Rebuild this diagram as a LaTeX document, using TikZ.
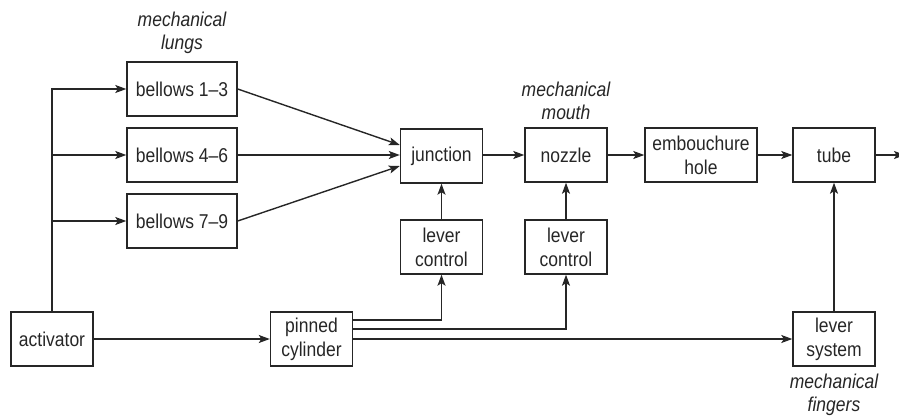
\documentclass[tikz,border=0pt]{standalone}
\usepackage{fontspec}
\setmainfont{Liberation Sans}[FakeStretch=0.875]
\usetikzlibrary{arrows.meta}
\definecolor{ink}{HTML}{262626}
\tikzset{
    every node/.style={rectangle, draw=ink, line width=1.4pt, text=ink, inner sep=0mm,
        minimum width=82pt, minimum height=54pt, align=center, font=\fontsize{20}{24}\selectfont}
}
\tikzset{every label/.style={draw=none, minimum width=0pt, minimum height=0pt,
    align=center, font=\fontsize{20}{23}\selectfont\itshape}}

\begin{document}
\begin{tikzpicture}[x=1pt, y=-1pt, label distance=7pt, line width=1.4pt, draw=ink,
    >={Stealth[length=11pt, width=8pt, inset=2.5pt]}]
    \useasboundingbox (0,0) rectangle (899,417);

    \node (b1) at (182, 89) [minimum width=110pt, label=above:{mechanical\\lungs}] {bellows 1--3};
    \node (b2) at (182, 155) [minimum width=110pt] {bellows 4--6};
    \node (b3) at (182, 221) [minimum width=110pt] {bellows 7--9};

    \node (jn) at (441.5, 156) {junction};
    \node (nz) at (566, 155) [label=above:{mechanical\\mouth}] {nozzle};
    \node (eh) at (701, 155) [minimum width=112pt] {embouchure\\hole};
    \node (tb) at (834, 155) {tube};
    \coordinate (out) at (905, 155);

    \node (lc1) at (441.5, 247) {lever\\control};
    \node (lc2) at (566, 247) {lever\\control};

    \node (act) at (52, 339) {activator};
    \node (pc) at (311.5, 339) {pinned\\cylinder};
    \node (ls) at (834, 339) [label=below:{mechanical\\fingers}] {lever\\system};

    % activator to the bellows
    \draw[->] (act) |- (b1);
    \draw[->] (act) |- (b2);
    \draw[->] (act) |- (b3);

    \draw (b1.east) edge[->] ([yshift=11pt]jn.west);
    \draw (b2) edge[->] (b2 -| jn.west);
    \draw (b3.east) edge[->] ([yshift=-10pt]jn.west);

    \draw (jn.east |- nz) edge[->] (nz);
    \draw (nz) edge[->] (eh);
    \draw (eh) edge[->] (tb);
    \draw (tb) edge[->] (out);

    \draw (lc1) edge[->] (jn);
    \draw (lc2) edge[->] (nz);
    \draw (ls) edge[->] (tb);

    % cylinder drives the levers
    \draw (act) edge[->] (pc);
    \draw[->] ([yshift=19pt]pc.east) -| (lc1);
    \draw[->] ([yshift=10pt]pc.east) -| (lc2);
    \draw (pc) edge[->] (ls);
\end{tikzpicture}
\end{document}
